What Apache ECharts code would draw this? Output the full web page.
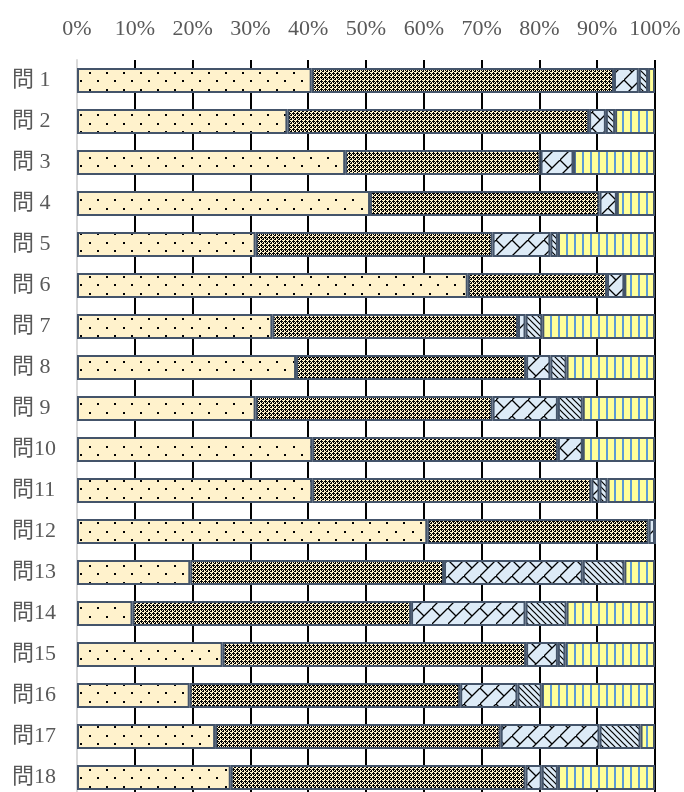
<!DOCTYPE html>
<html>
<head>
<meta charset="utf-8">
<script src="https://cdn.jsdelivr.net/npm/echarts@6/dist/echarts.min.js"></script>
<style>
  html, body { margin: 0; padding: 0; background: #fff; overflow: hidden; }
  #main { width: 684px; height: 798px; }
</style>
</head>
<body>
<div id="main"></div>
<script>
const questions = ["問 1", "問 2", "問 3", "問 4", "問 5", "問 6", "問 7", "問 8", "問 9",
  "問10", "問11", "問12", "問13", "問14", "問15", "問16", "問17", "問18"];

// percentage of each answer group per question
const groupA = [40.6, 36.4, 46.4, 50.7, 30.9, 67.6, 33.8, 37.9, 30.9, 40.7, 40.7, 60.6, 19.6, 9.6, 25.2, 19.5, 23.9, 26.6];
const groupB = [52.3, 52.2, 33.8, 39.7, 41.0, 24.1, 42.5, 39.8, 41.0, 42.5, 48.3, 38.3, 43.9, 48.2, 52.5, 46.8, 49.4, 51.0];
const groupC = [4.3, 2.9, 5.7, 3.0, 10.0, 3.0, 1.3, 4.2, 11.3, 4.3, 1.4, 1.1, 24.0, 19.8, 5.5, 9.9, 17.1, 2.8];
const groupD = [1.6, 1.6, 0, 0, 1.3, 0, 2.9, 2.8, 4.3, 0, 1.4, 0, 7.2, 7.1, 1.3, 4.2, 7.1, 2.8];
const groupE = [1.2, 6.9, 14.1, 6.6, 16.8, 5.3, 19.5, 15.3, 12.5, 12.5, 8.2, 0, 5.3, 15.3, 15.5, 19.6, 2.5, 16.8];

// little canvas tiles used as fills
function tile(w, h, draw) {
  const c = document.createElement("canvas");
  c.width = w;
  c.height = h;
  draw(c.getContext("2d"));
  return { image: c, repeat: "repeat" };
}

const dotFill = tile(17, 17, (ctx) => {
  ctx.fillStyle = "#FFF2CC";
  ctx.fillRect(0, 0, 17, 17);
  ctx.fillStyle = "#000";
  ctx.fillRect(4, 4, 2, 2);
  ctx.fillRect(12, 12, 2, 2);
});

// dark lattice on cream
const crossFill = tile(4, 4, (ctx) => {
  ctx.fillStyle = "#FFF2CC";
  ctx.fillRect(0, 0, 4, 4);
  ctx.fillStyle = "#000";
  [[1, 0], [0, 1], [1, 1], [2, 1], [1, 2], [3, 3], [3, 2], [2, 3]].forEach(([x, y]) => ctx.fillRect(x, y, 1, 1));
});

const brickFill = tile(16, 16, (ctx) => {
  ctx.fillStyle = "#DDEBF7";
  ctx.fillRect(0, 0, 16, 16);
  ctx.strokeStyle = "#000";
  ctx.lineWidth = 1.3;
  ctx.beginPath();
  ctx.moveTo(-1, 17);
  ctx.lineTo(17, -1);
  ctx.moveTo(0, 0);
  ctx.lineTo(8, 8);
  ctx.stroke();
});

const diagFill = tile(6, 6, (ctx) => {
  ctx.fillStyle = "#DDEBF7";
  ctx.fillRect(0, 0, 6, 6);
  ctx.strokeStyle = "#000";
  ctx.lineWidth = 1.2;
  ctx.beginPath();
  ctx.moveTo(-1, -1);
  ctx.lineTo(7, 7);
  ctx.moveTo(5, -1);
  ctx.lineTo(7, 1);
  ctx.moveTo(-1, 5);
  ctx.lineTo(1, 7);
  ctx.stroke();
});

const stripeFill = tile(8, 8, (ctx) => {
  ctx.fillStyle = "#FFFF99";
  ctx.fillRect(0, 0, 8, 8);
  ctx.fillStyle = "#5B9BD5";
  ctx.fillRect(6, 0, 2, 8);
});

const chart = echarts.init(document.getElementById("main"));

const fonts = "'Liberation Serif', 'Noto Sans CJK JP', serif";
const gridColors = ["#D9D9D9"].concat(new Array(10).fill("#000000"));

function barSeries(name, data, fill) {
  return {
    name: name,
    type: "bar",
    stack: "total",
    data: data,
    barWidth: 25,
    itemStyle: {
      color: fill,
      borderColor: "#44546A",
      borderWidth: 2,
    },
  };
}

const option = {
  animation: false,
  grid: {
    left: 77,
    right: 29,
    top: 60,
    bottom: 0,
    containLabel: false,
  },
  xAxis: {
    type: "value",
    position: "top",
    min: 0,
    max: 100,
    interval: 10,
    axisLine: { show: false },
    axisTick: { show: false },
    axisLabel: {
      formatter: "{value}%",
      color: "#595959",
      fontFamily: fonts,
      fontSize: 22,
      margin: 20,
    },
    splitLine: {
      show: true,
      lineStyle: { color: gridColors, width: 2 },
    },
  },
  yAxis: {
    type: "category",
    data: questions,
    inverse: true,
    axisLine: { show: true, lineStyle: { color: "#D9D9D9", width: 2 } },
    axisTick: { show: false },
    axisLabel: {
      color: "#595959",
      fontFamily: fonts,
      fontSize: 22,
      align: "left",
      margin: 65,
    },
  },
  series: [
    barSeries("A", groupA, dotFill),
    barSeries("B", groupB, crossFill),
    barSeries("C", groupC, brickFill),
    barSeries("D", groupD, diagFill),
    barSeries("E", groupE, stripeFill),
  ],
};

chart.setOption(option);
</script>
</body>
</html>
